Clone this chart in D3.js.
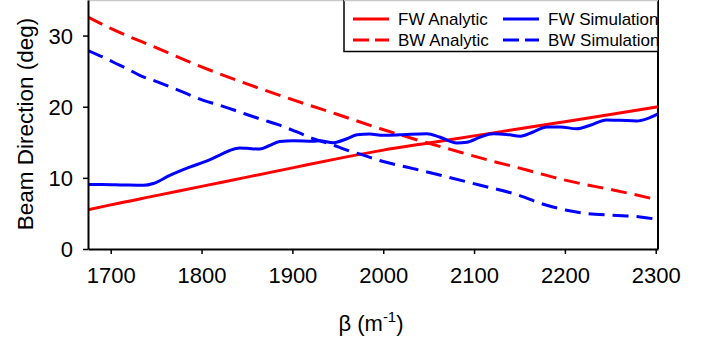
<!DOCTYPE html>
<html>
<head>
<meta charset="utf-8">
<style>
  body { margin: 0; background: #fff; }
  svg { display: block; font-family: Arial, "Liberation Sans", sans-serif; }
</style>
</head>
<body>
<svg id="chart" width="702" height="339"></svg>
<script src="https://d3js.org/d3.v7.min.js"></script>
<script>
// beta (m^-1) sample positions and beam direction (deg)
var fwAnalyticBeta = [1675, 1700, 1750, 1800, 1850, 1900, 1950, 2000, 2050, 2100, 2150, 2200, 2250, 2302.5];
var fwAnalytic     = [5.5, 6.2, 7.5, 8.8, 10.1, 11.4, 12.7, 13.9, 14.9, 15.9, 16.9, 17.9, 18.9, 20.0];

var bwAnalyticBeta = [1675, 1700, 1750, 1800, 1850, 1900, 1950, 1997, 2033, 2085, 2110, 2158, 2187, 2217, 2253, 2302.5];
var bwAnalytic     = [32.6, 31.0, 28.3, 25.6, 23.2, 21.0, 18.9, 16.9, 15.5, 13.6, 12.7, 11.1, 10.1, 9.2, 8.3, 6.9];

var fwSimBeta = [1675, 1690, 1714, 1736, 1747, 1765, 1787, 1806, 1820, 1831, 1842, 1850, 1864, 1875, 1886, 1901, 1923, 1930, 1945, 1960, 1971, 1985,
                 2000, 2018, 2048, 2062, 2081, 2092, 2107, 2121, 2136, 2151, 2165, 2180, 2195, 2213, 2228, 2246, 2261, 2279, 2290, 2302.5];
var fwSim     = [9.05, 9.07, 9.0, 8.95, 9.2, 10.35, 11.5, 12.4, 13.2, 13.85, 14.2, 14.15, 14.05, 14.55, 15.1, 15.2, 15.15, 15.2, 14.95, 15.5, 16.05, 16.15,
                 16.0, 16.05, 16.2, 15.75, 14.9, 15.0, 15.75, 16.2, 16.1, 15.85, 16.45, 17.15, 17.15, 16.9, 17.4, 18.15, 18.1, 18.0, 18.3, 19.0];

var bwSimBeta = [1675, 1692, 1703, 1718, 1732, 1747, 1775, 1802, 1820, 1842, 1864, 1886, 1905, 1923, 1941, 1960, 1978, 1997, 2033, 2070, 2107, 2143, 2180, 2202, 2224, 2253, 2283, 2302.5];
var bwSim     = [27.9, 26.95, 26.25, 25.35, 24.4, 23.7, 22.3, 20.9, 20.2, 19.25, 18.3, 17.4, 16.45, 15.5, 14.8, 13.9, 13.2, 12.4, 11.3, 10.15, 8.95, 7.8, 6.15, 5.45, 5.0, 4.75, 4.5, 4.15];

var xTicks = [1700, 1800, 1900, 2000, 2100, 2200, 2300];
var yTicks = [0, 10, 20, 30];

var legendItems = [
  { label: "FW Analytic",   color: "#ff0000", dashed: false, col: 0, row: 0 },
  { label: "BW Analytic",   color: "#ff0000", dashed: true,  col: 0, row: 1 },
  { label: "FW Simulation", color: "#0000ff", dashed: false, col: 1, row: 0 },
  { label: "BW Simulation", color: "#0000ff", dashed: true,  col: 1, row: 1 }
];

var svg = d3.select("#chart");
var plotLeft = 88, plotRight = 658, plotTop = 0, plotBottom = 249;

var x = d3.scaleLinear().domain([1675, 2302.5]).range([plotLeft, plotRight]);
var y = d3.scaleLinear().domain([0, 35]).range([plotBottom, plotTop]);

// frame
svg.append("line").attr("x1", plotLeft).attr("x2", plotRight).attr("y1", 0.5).attr("y2", 0.5)
  .attr("stroke", "#c8c8c8").attr("stroke-width", 1.5);
svg.append("line").attr("x1", plotRight).attr("x2", plotRight).attr("y1", 0).attr("y2", plotBottom)
  .attr("stroke", "#000").attr("stroke-width", 2);

var line = d3.line()
  .x(function(d) { return x(d[0]); })
  .y(function(d) { return y(d[1]); })
  .curve(d3.curveMonotoneX);

function pairs(xs, ys) { return xs.map(function(v, i) { return [v, ys[i]]; }); }

var series = [
  { data: pairs(fwAnalyticBeta, fwAnalytic), color: "#ff0000", dashed: false },
  { data: pairs(bwAnalyticBeta, bwAnalytic), color: "#ff0000", dashed: true },
  { data: pairs(bwSimBeta, bwSim),           color: "#0000ff", dashed: true },
  { data: pairs(fwSimBeta, fwSim),           color: "#0000ff", dashed: false }
];

svg.append("defs").append("clipPath").attr("id", "plotclip")
  .append("rect").attr("x", plotLeft).attr("y", plotTop)
  .attr("width", plotRight - plotLeft).attr("height", plotBottom - plotTop);

svg.append("g").attr("clip-path", "url(#plotclip)")
  .selectAll("path")
  .data(series)
  .enter().append("path")
  .attr("d", function(d) { return line(d.data); })
  .attr("fill", "none")
  .attr("stroke", function(d) { return d.color; })
  .attr("stroke-width", 3)
  .attr("stroke-dasharray", function(d) { return d.dashed ? "16,8" : null; });

// axes
var xAxis = svg.append("g")
  .attr("transform", "translate(0," + plotBottom + ")")
  .call(d3.axisBottom(x).tickValues(xTicks).tickSize(5).tickSizeOuter(0).tickFormat(d3.format("d")));
xAxis.select(".domain").attr("stroke-width", 2);
xAxis.selectAll(".tick line").attr("stroke-width", 1.5);
xAxis.selectAll("text").attr("font-size", 22).attr("font-family", null).attr("fill", "#000").attr("dy", null).attr("y", 34);

var yAxis = svg.append("g")
  .attr("transform", "translate(" + plotLeft + ",0)")
  .call(d3.axisLeft(y).tickValues(yTicks).tickSize(5).tickSizeOuter(0));
yAxis.select(".domain").attr("stroke-width", 2);
yAxis.selectAll(".tick line").attr("stroke-width", 1.5);
yAxis.selectAll("text").attr("font-size", 22).attr("font-family", null).attr("fill", "#000").attr("x", -15).attr("dy", "0.36em");

// axis titles
var xt = svg.append("text")
  .attr("x", 371).attr("y", 331)
  .attr("text-anchor", "middle")
  .attr("font-size", 22)
  .attr("fill", "#000");
xt.append("tspan").text("\u03b2 (m");
xt.append("tspan").attr("font-size", 15).attr("dy", -9).text("-1");
xt.append("tspan").attr("dy", 9).text(")");

svg.append("text")
  .attr("transform", "translate(33,124) rotate(-90)")
  .attr("text-anchor", "middle")
  .attr("font-size", 22.5)
  .attr("fill", "#000")
  .text("Beam Direction (deg)");

// legend
var lg = svg.append("g");
lg.append("rect")
  .attr("x", 344).attr("y", -2).attr("width", plotRight - 344).attr("height", 53.5)
  .attr("fill", "#fff").attr("stroke", "#000").attr("stroke-width", 1.5);

var colX = [353, 503];
var rowY = [19, 40];
var items = lg.selectAll("g.item")
  .data(legendItems)
  .enter().append("g").attr("class", "item")
  .attr("transform", function(d) { return "translate(" + colX[d.col] + "," + rowY[d.row] + ")"; });
items.append("line")
  .attr("x1", 0).attr("x2", 36).attr("y1", 0).attr("y2", 0)
  .attr("stroke", function(d) { return d.color; })
  .attr("stroke-width", 3)
  .attr("stroke-dasharray", function(d) { return d.dashed ? "16,6" : null; });
items.append("text")
  .attr("x", 45).attr("y", 6)
  .attr("font-size", 17)
  .attr("fill", "#000")
  .text(function(d) { return d.label; });

// top edge over legend
svg.append("line").attr("x1", 344).attr("x2", plotRight).attr("y1", 0.5).attr("y2", 0.5)
  .attr("stroke", "#c8c8c8").attr("stroke-width", 1.5);
</script>
</body>
</html>
